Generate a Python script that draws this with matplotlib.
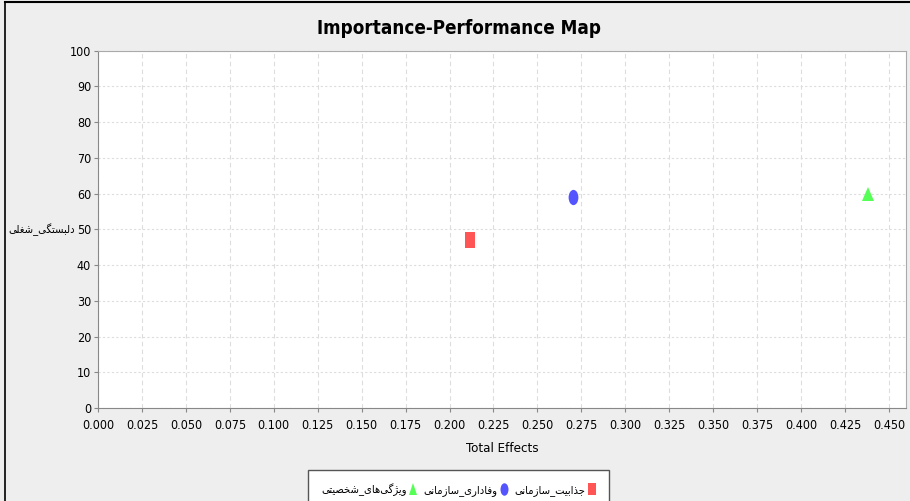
import matplotlib
matplotlib.use("Agg")
import matplotlib.pyplot as plt
from matplotlib.markers import MarkerStyle
from matplotlib.transforms import Affine2D
from matplotlib.lines import Line2D

# constructs (Persian labels), importance (total effects) and performance
names = ["جذابیت_سازمانی", "وفاداری_سازمانی", "ویژگی‌های_شخصیتی"]
total_effects = [0.2116, 0.270, 0.438]
performance = [47.0, 59.0, 59.9]
target_name = "دلبستگی_شغلی"

x_ticks = [i * 0.025 for i in range(19)]
y_ticks = list(range(0, 101, 10))

# minimal arabic/persian shaping: (isolated, final, initial, medial)
FORMS = {
    "ا": ("\uFE8D", "\uFE8E", None, None),
    "ب": ("\uFE8F", "\uFE90", "\uFE91", "\uFE92"),
    "ت": ("\uFE95", "\uFE96", "\uFE97", "\uFE98"),
    "ج": ("\uFE9D", "\uFE9E", "\uFE9F", "\uFEA0"),
    "خ": ("\uFEA5", "\uFEA6", "\uFEA7", "\uFEA8"),
    "د": ("\uFEA9", "\uFEAA", None, None),
    "ذ": ("\uFEAB", "\uFEAC", None, None),
    "ر": ("\uFEAD", "\uFEAE", None, None),
    "ز": ("\uFEAF", "\uFEB0", None, None),
    "ژ": ("\uFB8A", "\uFB8B", None, None),
    "س": ("\uFEB1", "\uFEB2", "\uFEB3", "\uFEB4"),
    "ش": ("\uFEB5", "\uFEB6", "\uFEB7", "\uFEB8"),
    "ص": ("\uFEB9", "\uFEBA", "\uFEBB", "\uFEBC"),
    "غ": ("\uFECD", "\uFECE", "\uFECF", "\uFED0"),
    "ف": ("\uFED1", "\uFED2", "\uFED3", "\uFED4"),
    "گ": ("\uFB92", "\uFB93", "\uFB94", "\uFB95"),
    "ل": ("\uFEDD", "\uFEDE", "\uFEDF", "\uFEE0"),
    "م": ("\uFEE1", "\uFEE2", "\uFEE3", "\uFEE4"),
    "ن": ("\uFEE5", "\uFEE6", "\uFEE7", "\uFEE8"),
    "ه": ("\uFEE9", "\uFEEA", "\uFEEB", "\uFEEC"),
    "و": ("\uFEED", "\uFEEE", None, None),
    "ی": ("\uFBFC", "\uFBFD", "\uFBFE", "\uFBFF"),
}


def dual(c):
    return c in FORMS and FORMS[c][2] is not None


def shape(text):
    out = []
    for i, c in enumerate(text):
        if c not in FORMS:
            if c != "\u200c":
                out.append(c)
            continue
        prev = text[i - 1] if i > 0 else ""
        nxt = text[i + 1] if i + 1 < len(text) else ""
        jp = dual(prev)
        jn = dual(c) and nxt in FORMS
        f = FORMS[c]
        if jp and jn:
            out.append(f[3])
        elif jp:
            out.append(f[1])
        elif jn:
            out.append(f[2])
        else:
            out.append(f[0])
    return "".join(reversed(out))


plt.rcParams["font.family"] = ["DejaVu Sans"]
plt.rcParams["font.stretch"] = "condensed"

colors = ["#FF5555", "#5555FF", "#55FF55"]
tall = Affine2D().scale(0.64, 1.0)
markers = [MarkerStyle("s", transform=tall), MarkerStyle("o", transform=tall),
           MarkerStyle("^", transform=Affine2D().scale(0.8, 1.0))]
sizes = [11, 11, 10]

fig = plt.figure(figsize=(9.1, 5.01), dpi=100, facecolor="#EEEEEE")
ax = fig.add_axes([0.1077, 0.1856, 0.8879, 0.7132])
ax.set_facecolor("white")

for i in range(len(names)):
    ax.plot(total_effects[i], performance[i], linestyle="none", marker=markers[i],
            markersize=sizes[i], color=colors[i], markeredgewidth=0)

ax.set_xlim(0, 0.4597)
ax.set_ylim(0, 100)
ax.set_xticks(x_ticks)
ax.set_xticklabels([f"{v:.3f}" for v in x_ticks])
ax.set_yticks(y_ticks)
ax.tick_params(labelsize=9, length=3, color="#888888", pad=2)
ax.tick_params(axis="x", pad=5)
ax.grid(True, axis="x", color="#DDDDDD", linestyle=(0, (4, 3)), linewidth=0.8)
ax.grid(True, axis="y", color="#DDDDDD", linestyle=(0, (2, 2)), linewidth=0.8)
for s in ax.spines.values():
    s.set_color("#AAAAAA")
ax.spines["left"].set_color("#888888")
ax.spines["bottom"].set_color("#888888")

ax.set_xlabel("Total Effects", fontsize=9.5, labelpad=7)
fig.text(0.046, 1 - 230 / 501, shape(target_name), fontsize=8, ha="center", va="center")
fig.text(0.504, 0.944, "Importance-Performance Map", fontsize=13.5, fontweight="bold",
         ha="center", va="center")

# frame lines from the screenshot
fig.add_artist(Line2D([0.0055, 0.0055], [0, 0.997], color="black", linewidth=1.2))
fig.add_artist(Line2D([0.0055, 1], [0.997, 0.997], color="black", linewidth=1.5))

handles = []
for i in [2, 1, 0]:
    handles.append(Line2D([], [], linestyle="none", marker=markers[i], markersize=sizes[i] - 2,
                          color=colors[i], markeredgewidth=0, label=shape(names[i])))
leg = fig.legend(handles=handles, loc="upper center", bbox_to_anchor=(0.504, 1 - 470 / 501),
                 ncol=3, markerfirst=False, fontsize=8, frameon=True, fancybox=False,
                 edgecolor="#555555", framealpha=1, handletextpad=0.2, columnspacing=0.5,
                 borderpad=1.2, handlelength=0.8, borderaxespad=0)
leg.get_frame().set_facecolor("white")
leg.get_frame().set_linewidth(1.0)

fig.savefig("out.png", dpi=100, facecolor=fig.get_facecolor())
